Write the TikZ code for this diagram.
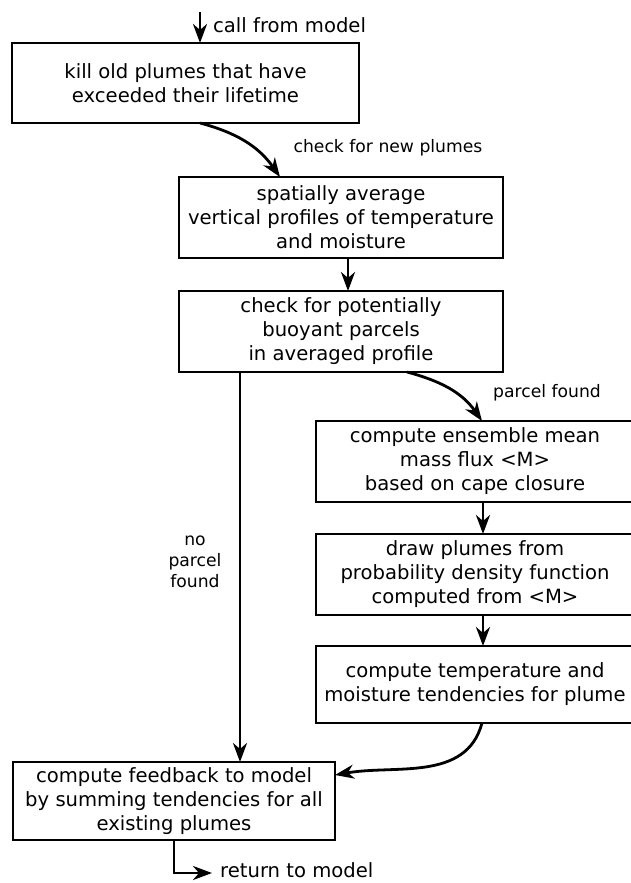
\documentclass[tikz,border=0pt]{standalone}
\usepackage{fontspec}
\setmainfont{DejaVu Sans}
\usetikzlibrary{arrows.meta, positioning}

\begin{document}
\begin{tikzpicture}[x=1pt, y=-1pt, font=\fontsize{19.6}{24}\selectfont,
    box/.style={draw, line width=2.8pt, outer sep=0pt, inner sep=0pt, align=center},
    flow/.style={line width=2.8pt, -{Stealth[length=19pt, width=14pt, inset=6pt]}},
    note/.style={inner sep=0pt, align=center, font=\fontsize{17.2}{21}\selectfont}]
  \useasboundingbox (0,0) rectangle (630,883);

  % left column
  \node[box, minimum width=347pt, minimum height=80pt] (kill) at (185.5,83)
    {kill old plumes that have\\exceeded their lifetime};
  \node[box, minimum width=324pt, minimum height=81pt] (avg) at (341,217.5)
    {spatially average\\vertical profiles of temperature\\and moisture};
  \node[box, minimum width=324pt, minimum height=81pt, below=33pt of avg] (check)
    {check for potentially\\buoyant parcels\\in averaged profile};

  % right column, runs off the page
  \node[box, minimum width=318pt, minimum height=81pt] (ens) at (475,461.5)
    {compute ensemble mean\\mass flux <M>\\based on cape closure};
  \node[box, minimum width=318pt, minimum height=81pt, below=32pt of ens] (pdf)
    {draw plumes from\\probability density function\\computed from <M>};
  \node[box, minimum width=318pt, minimum height=77pt, below=31pt of pdf] (tend)
    {compute temperature and\\moisture tendencies for plume};

  \node[box, minimum width=322pt, minimum height=78pt] (feed) at (174,801)
    {compute feedback to model\\by summing tendencies for all\\existing plumes};

  % connectors
  \coordinate (call) at (200,12);
  \draw[flow] (call) -- (call |- kill.north);
  \node[anchor=west, inner sep=0pt] (calltxt) at (213,25) {call from model};

  \draw[flow] (call |- kill.south) to[out=-15, in=125] ([xshift=-61pt]avg.north);
  \node[note] (newtxt) at (388,148) {check for new plumes};
  \draw[flow] ([xshift=7pt]avg.south) -- ([xshift=7pt]check.north);

  \draw[flow] ([xshift=66pt]check.south) to[out=-15, in=125] ([xshift=7pt]ens.north);
  \node[note] (foundtxt) at (547,393) {parcel found};

  \coordinate (split) at ([xshift=-101pt]check.south);
  \draw[flow] (split) -- (split |- feed.north);
  \node[note] (nofoundtxt) at (195,562) {no\\parcel\\found};

  \draw[flow] ([xshift=8pt]ens.south) -- ([xshift=8pt]pdf.north);
  \draw[flow] ([xshift=8pt]pdf.south) -- ([xshift=8pt]tend.north);
  \draw[flow] ([xshift=7pt]tend.south) to[out=-105, in=10] ([yshift=26pt]feed.east);

  \coordinate (ret) at (212,873);
  \draw[flow] (feed.south) |- (ret);
  \node[anchor=west, inner sep=0pt] (rettxt) at (220,870) {return to model};
\end{tikzpicture}
\end{document}
